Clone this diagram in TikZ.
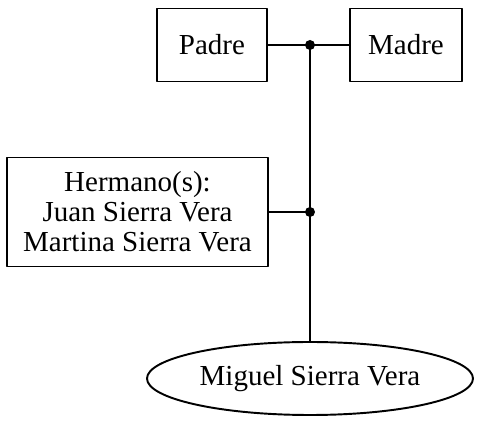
\documentclass[tikz,border=0pt]{standalone}
\usepackage{fontspec}
\setmainfont{Liberation Serif}
\usepackage{tikz}
\usetikzlibrary{calc,shapes.geometric}
\tikzset{
  base/.style={draw=black, line width=1.1pt, line cap=round, line join=round},
  box/.style={base, rectangle, inner sep=0pt, align=center, font=\fontsize{16.5}{17}\selectfont},
  oval/.style={base, ellipse, inner sep=0pt, font=\fontsize{16.5}{17}\selectfont},
  dot/.style={circle, fill=black, inner sep=0pt, minimum size=0.2cm}
}
\begin{document}
\begin{tikzpicture}
  \useasboundingbox (0,0) rectangle (9.6,8.48);
  \def\X{6.2}
  \node[box, minimum width=2.2cm, minimum height=1.46cm] (padre) at (4.24,7.58) {Padre};
  \node[box, minimum width=2.24cm, minimum height=1.46cm] (madre) at (8.12,7.58) {Madre};
  \node[box, minimum width=5.22cm, minimum height=2.18cm] (hermanos) at (2.75,4.24)
    {Hermano(s):\\Juan Sierra Vera\\Martina Sierra Vera};
  \node[oval, minimum width=6.52cm, minimum height=1.46cm] (miguel) at (\X,0.91) {Miguel Sierra Vera};
  \coordinate (pm) at (\X,7.58);
  \coordinate (hj) at (\X,4.24);
  \draw[base] (padre) -- (pm) -- (madre);
  \draw[base] (hermanos) -- (hj);
  \draw[base] (pm) -- (hj) -- (miguel);
  \node[dot] (pmdot) at (pm) {};
  \node[dot] (hjdot) at (hj) {};
\end{tikzpicture}
\end{document}
